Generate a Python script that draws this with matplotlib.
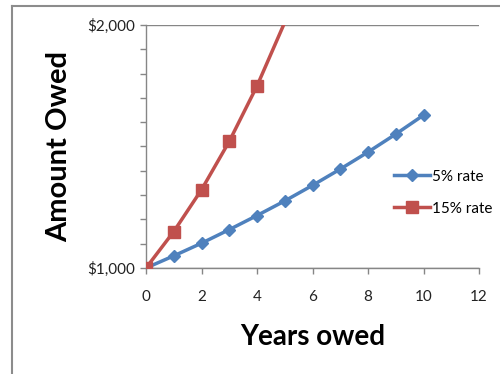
import numpy as np
import matplotlib.pyplot as plt
from matplotlib.ticker import MultipleLocator, FuncFormatter
from matplotlib.lines import Line2D

# Werte (Zinseszins auf $1,000)
years = [0, 1, 2, 3, 4, 5, 6, 7, 8, 9, 10]
owed_5 = [1000, 1050, 1102, 1158, 1216, 1276, 1340, 1407, 1477, 1551, 1629]
owed_15 = [1000, 1150, 1322, 1521, 1749, 2011, 2313, 2660, 3059, 3518, 4046]

blue = '#4F81BD'
red = '#C0504D'
grey = '#868686'

plt.rcParams['font.family'] = ['Lato', 'DejaVu Sans']

fig = plt.figure(figsize=(5.0, 3.74), dpi=100)
ax = fig.add_axes([0.292, 0.2834, 0.666, 0.6498])

# Rahmen um das Diagramm (links und oben)
fig.add_artist(Line2D([12 / 500, 12 / 500], [0, 1 - 6 / 374], transform=fig.transFigure,
                      color='#8c8c8c', lw=1.5))
fig.add_artist(Line2D([12 / 500, 1], [1 - 6 / 374, 1 - 6 / 374], transform=fig.transFigure,
                      color='#8c8c8c', lw=1.5))

ax.plot(years, owed_5, color=blue, lw=2.5, marker='D', ms=6.5, label='5% rate', zorder=3)
# nur Marker innerhalb der Achse zeigen
sichtbar = [i for i, v in enumerate(owed_15) if v <= 2000]
ax.plot(years, owed_15, color=red, lw=2.5, marker='s', ms=9, markevery=sichtbar,
        label='15% rate', zorder=3)

ax.set_xlim(0, 12)
ax.set_ylim(1000, 2000)
ax.xaxis.set_major_locator(MultipleLocator(2))
ax.yaxis.set_major_locator(MultipleLocator(1000))
ax.yaxis.set_minor_locator(MultipleLocator(100))
ax.yaxis.set_major_formatter(FuncFormatter(lambda v, p: '${:,.0f}'.format(v)))

for s in ['top', 'right']:
    ax.spines[s].set_visible(False)
for s in ['left', 'bottom']:
    ax.spines[s].set_color(grey)
    ax.spines[s].set_linewidth(1.0)

ax.tick_params(axis='both', which='both', direction='out', length=4, width=1,
               color=grey, labelsize=11, labelcolor='#222222')
ax.tick_params(axis='x', pad=12)
ax.tick_params(axis='y', pad=4)
ax.grid(axis='y', which='major', color=grey, lw=1.0)
ax.set_axisbelow(True)

ax.set_xlabel('Years owed', fontsize=20, fontweight='bold', labelpad=14)
ax.set_ylabel('Amount Owed', fontsize=21, fontweight='bold', labelpad=11)

ax.legend(loc='center left', bbox_to_anchor=(0.725, 0.31), frameon=False, fontsize=11,
          handlelength=2.4, handletextpad=0.1, labelspacing=1.2, borderaxespad=0)

fig.savefig('out.png', dpi=100)
